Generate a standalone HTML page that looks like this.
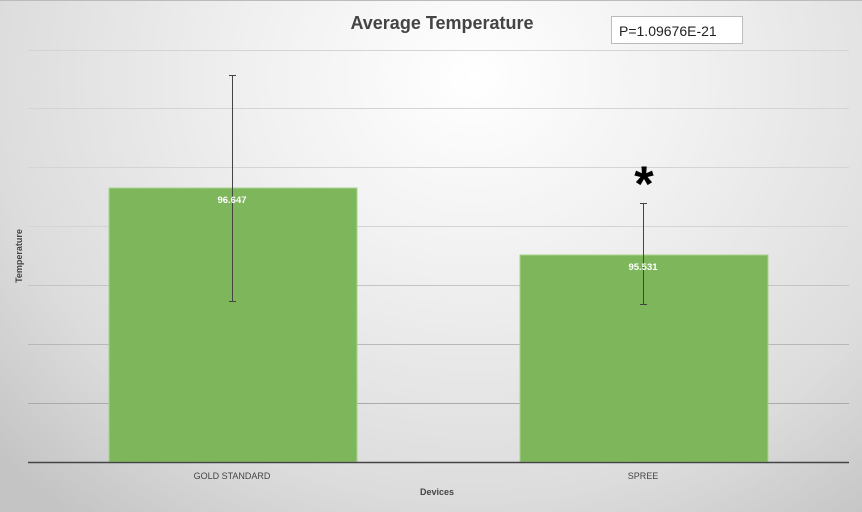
<!DOCTYPE html>
<html><head><style>
body{margin:0}
#c{position:relative;width:862px;height:512px;overflow:hidden;font-family:"Liberation Sans",sans-serif;
background:radial-gradient(ellipse 75% 110% at 55% 15%,#ffffff 0%,#f0f0f0 35%,#dcdcdc 75%,#c4c4c4 100%);border-top:1px solid #bbb;box-sizing:border-box}
</style></head><body><div id="c">
<svg width="862" height="512" style="position:absolute;left:0;top:0">
<g stroke="#d4d4d4" stroke-width="1">
<line x1="28" x2="849" y1="49.5" y2="49.5"/><line x1="28" x2="849" y1="107.5" y2="107.5"/>
<line x1="28" x2="849" y1="166.5" y2="166.5"/><line x1="28" x2="849" y1="225.5" y2="225.5"/>
<line x1="28" x2="849" y1="284.5" y2="284.5" stroke="#c4c4c4"/><line x1="28" x2="849" y1="343.5" y2="343.5" stroke="#b8b8b8"/>
<line x1="28" x2="849" y1="402.5" y2="402.5" stroke="#aaa"/>
</g>
<rect x="109" y="187" width="248" height="274" fill="#7db65b" stroke="#a8d48c" stroke-width="1"/>
<rect x="520" y="254" width="248" height="207" fill="#7db65b" stroke="#a8d48c" stroke-width="1"/>
<line x1="28" x2="849" y1="461.5" y2="461.5" stroke="#444" stroke-width="1.5"/>
<g stroke="#444" stroke-width="1">
<line x1="232.5" x2="232.5" y1="74" y2="301"/><line x1="229" x2="236" y1="74.5" y2="74.5"/><line x1="229" x2="236" y1="300.5" y2="300.5"/>
<line x1="643.5" x2="643.5" y1="202" y2="304"/><line x1="640" x2="647" y1="202.5" y2="202.5"/><line x1="640" x2="647" y1="303.5" y2="303.5"/>
</g>
<g font-family="Liberation Sans,sans-serif" font-weight="bold" fill="#fff" font-size="9.5" text-anchor="middle">
<text x="232" y="202">96.647</text><text x="643" y="269">95.531</text></g>
<text x="442" y="28" text-anchor="middle" font-weight="bold" font-size="18" fill="#444">Average Temperature</text>
<text x="644" y="200" text-anchor="middle" font-weight="bold" font-size="50" fill="#000">*</text>
<g font-size="9" fill="#444" text-anchor="middle">
<text x="232" y="478">GOLD STANDARD</text><text x="643" y="478">SPREE</text></g>
<text x="437" y="494" text-anchor="middle" font-weight="bold" font-size="9" fill="#444">Devices</text>
<text transform="translate(22,255) rotate(-90)" text-anchor="middle" font-weight="bold" font-size="9" fill="#444">Temperature</text>
<rect x="611.5" y="15.5" width="131" height="27" fill="#fff" stroke="#bbb"/>
<text x="619" y="35" font-size="14" fill="#222">P=1.09676E-21</text>
</svg></div></body></html>
